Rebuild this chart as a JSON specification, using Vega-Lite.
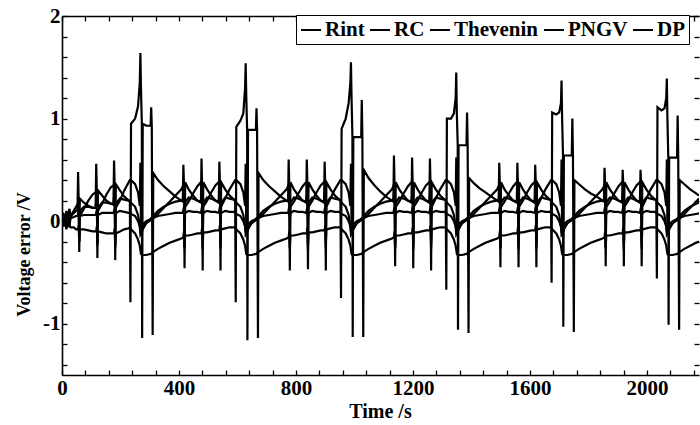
{
"$schema": "https://vega.github.io/schema/vega-lite/v6.json",
"width": 637, "height": 359,
"autosize": {"type": "none"},
"padding": {"left": 62, "top": 16, "right": 1, "bottom": 50},
"background": "white",
"config": {"view": {"stroke": null}, "font": "Liberation Serif"},
"datasets": {"err": [
{"t":0,"Rint":0,"RC":0,"Thevenin":0,"PNGV":0,"DP":0},
{"t":5,"Rint":0.08,"RC":-0.05,"Thevenin":0.05,"PNGV":0.02,"DP":-0.05},
{"t":10,"Rint":-0.05,"RC":0.06,"Thevenin":0.0,"PNGV":0.03,"DP":0.02},
{"t":15,"Rint":0.10,"RC":0.02,"Thevenin":0.06,"PNGV":0.0,"DP":-0.08},
{"t":20,"Rint":0.03,"RC":0.08,"Thevenin":0.04,"PNGV":0.05,"DP":-0.02},
{"t":25,"Rint":0.12,"RC":-0.06,"Thevenin":0.08,"PNGV":0.03,"DP":-0.04},
{"t":30,"Rint":0.05,"RC":0.05,"Thevenin":0.06,"PNGV":0.03,"DP":-0.06},
{"t":40,"Rint":0.08,"RC":0.10,"Thevenin":0.08,"PNGV":0.04,"DP":-0.06},
{"t":48,"Rint":0.10,"RC":0.14,"Thevenin":0.10,"PNGV":0.05,"DP":-0.08},
{"t":53,"Rint":0.10,"RC":0.16,"Thevenin":0.10,"PNGV":0.05,"DP":-0.08},
{"t":55,"Rint":0.48,"RC":0.18,"Thevenin":0.15,"PNGV":0.07,"DP":-0.08},
{"t":57,"Rint":0.20,"RC":0.14,"Thevenin":0.12,"PNGV":0.06,"DP":-0.04},
{"t":59,"Rint":-0.30,"RC":-0.20,"Thevenin":0.02,"PNGV":0.0,"DP":-0.20},
{"t":61,"Rint":0.22,"RC":0.05,"Thevenin":0.10,"PNGV":0.05,"DP":-0.08},
{"t":75,"Rint":0.18,"RC":0.12,"Thevenin":0.14,"PNGV":0.06,"DP":-0.08},
{"t":90,"Rint":0.15,"RC":0.20,"Thevenin":0.14,"PNGV":0.06,"DP":-0.09},
{"t":105,"Rint":0.13,"RC":0.26,"Thevenin":0.13,"PNGV":0.06,"DP":-0.10},
{"t":115,"Rint":0.13,"RC":0.28,"Thevenin":0.13,"PNGV":0.06,"DP":-0.10},
{"t":117,"Rint":0.56,"RC":0.30,"Thevenin":0.20,"PNGV":0.08,"DP":-0.10},
{"t":119,"Rint":0.30,"RC":0.24,"Thevenin":0.16,"PNGV":0.07,"DP":-0.05},
{"t":121,"Rint":-0.36,"RC":-0.24,"Thevenin":0.05,"PNGV":0.02,"DP":-0.22},
{"t":123,"Rint":0.30,"RC":0.10,"Thevenin":0.13,"PNGV":0.06,"DP":-0.10},
{"t":137,"Rint":0.25,"RC":0.17,"Thevenin":0.18,"PNGV":0.08,"DP":-0.11},
{"t":152,"Rint":0.20,"RC":0.26,"Thevenin":0.18,"PNGV":0.08,"DP":-0.12},
{"t":167,"Rint":0.17,"RC":0.33,"Thevenin":0.17,"PNGV":0.08,"DP":-0.12},
{"t":176,"Rint":0.16,"RC":0.35,"Thevenin":0.17,"PNGV":0.08,"DP":-0.12},
{"t":178,"Rint":0.59,"RC":0.36,"Thevenin":0.24,"PNGV":0.10,"DP":-0.12},
{"t":180,"Rint":0.35,"RC":0.30,"Thevenin":0.20,"PNGV":0.09,"DP":-0.07},
{"t":182,"Rint":-0.38,"RC":-0.26,"Thevenin":0.10,"PNGV":0.03,"DP":-0.24},
{"t":184,"Rint":0.36,"RC":0.13,"Thevenin":0.17,"PNGV":0.08,"DP":-0.12},
{"t":198,"Rint":0.30,"RC":0.20,"Thevenin":0.22,"PNGV":0.10,"DP":-0.10},
{"t":213,"Rint":0.24,"RC":0.30,"Thevenin":0.21,"PNGV":0.09,"DP":-0.08},
{"t":228,"Rint":0.20,"RC":0.38,"Thevenin":0.20,"PNGV":0.08,"DP":-0.07},

{"t":232,"Rint":0.20,"RC":0.40,"Thevenin":0.20,"PNGV":0.08,"DP":-0.06},
{"t":234,"Rint":-0.79,"RC":0.40,"Thevenin":0.19,"PNGV":0.08,"DP":-0.07},
{"t":236,"Rint":0.95,"RC":0.40,"Thevenin":0.18,"PNGV":0.07,"DP":-0.08},
{"t":250,"Rint":1.00,"RC":0.36,"Thevenin":0.14,"PNGV":0.05,"DP":-0.12},
{"t":260,"Rint":1.12,"RC":0.28,"Thevenin":0.06,"PNGV":0.00,"DP":-0.18},
{"t":266,"Rint":1.35,"RC":0.15,"Thevenin":-0.05,"PNGV":-0.05,"DP":-0.24},
{"t":268,"Rint":1.64,"RC":0.57,"Thevenin":-0.13,"PNGV":-0.09,"DP":-0.28},
{"t":270,"Rint":1.30,"RC":-0.05,"Thevenin":-0.12,"PNGV":-0.08,"DP":-0.32},
{"t":273,"Rint":0.95,"RC":-0.04,"Thevenin":-0.10,"PNGV":-0.07,"DP":-0.33},
{"t":274,"Rint":-1.14,"RC":-0.04,"Thevenin":-0.10,"PNGV":-0.07,"DP":-0.33},
{"t":276,"Rint":0.95,"RC":-0.03,"Thevenin":-0.08,"PNGV":-0.06,"DP":-0.33},
{"t":288,"Rint":0.93,"RC":0.00,"Thevenin":-0.02,"PNGV":-0.02,"DP":-0.33},
{"t":303,"Rint":0.93,"RC":0.02,"Thevenin":0.02,"PNGV":0.01,"DP":-0.32},
{"t":305,"Rint":1.11,"RC":0.02,"Thevenin":0.03,"PNGV":0.02,"DP":-0.32},
{"t":307,"Rint":0.92,"RC":0.03,"Thevenin":0.03,"PNGV":0.02,"DP":-0.31},
{"t":310,"Rint":-1.11,"RC":0.03,"Thevenin":0.04,"PNGV":0.02,"DP":-0.31},
{"t":312,"Rint":0.47,"RC":0.03,"Thevenin":0.05,"PNGV":0.03,"DP":-0.30},
{"t":328,"Rint":0.40,"RC":0.07,"Thevenin":0.10,"PNGV":0.05,"DP":-0.27},
{"t":348,"Rint":0.34,"RC":0.13,"Thevenin":0.14,"PNGV":0.06,"DP":-0.24},
{"t":368,"Rint":0.29,"RC":0.19,"Thevenin":0.17,"PNGV":0.07,"DP":-0.21},
{"t":388,"Rint":0.24,"RC":0.25,"Thevenin":0.19,"PNGV":0.08,"DP":-0.19},
{"t":408,"Rint":0.20,"RC":0.31,"Thevenin":0.20,"PNGV":0.08,"DP":-0.17},
{"t":413,"Rint":0.19,"RC":0.34,"Thevenin":0.20,"PNGV":0.08,"DP":-0.16},
{"t":415,"Rint":0.55,"RC":0.36,"Thevenin":0.26,"PNGV":0.11,"DP":-0.16},
{"t":417,"Rint":0.36,"RC":0.30,"Thevenin":0.22,"PNGV":0.10,"DP":-0.10},
{"t":419,"Rint":-0.46,"RC":-0.27,"Thevenin":0.12,"PNGV":0.04,"DP":-0.26},
{"t":421,"Rint":0.38,"RC":0.14,"Thevenin":0.18,"PNGV":0.08,"DP":-0.14},
{"t":433,"Rint":0.31,"RC":0.19,"Thevenin":0.23,"PNGV":0.10,"DP":-0.14},
{"t":448,"Rint":0.25,"RC":0.27,"Thevenin":0.22,"PNGV":0.09,"DP":-0.13},
{"t":463,"Rint":0.20,"RC":0.34,"Thevenin":0.20,"PNGV":0.09,"DP":-0.12},
{"t":475,"Rint":0.18,"RC":0.38,"Thevenin":0.19,"PNGV":0.08,"DP":-0.12},
{"t":477,"Rint":0.61,"RC":0.38,"Thevenin":0.25,"PNGV":0.11,"DP":-0.12},
{"t":479,"Rint":0.36,"RC":0.30,"Thevenin":0.22,"PNGV":0.10,"DP":-0.06},
{"t":481,"Rint":-0.48,"RC":-0.28,"Thevenin":0.12,"PNGV":0.04,"DP":-0.24},
{"t":483,"Rint":0.38,"RC":0.14,"Thevenin":0.18,"PNGV":0.08,"DP":-0.11},
{"t":496,"Rint":0.31,"RC":0.20,"Thevenin":0.23,"PNGV":0.10,"DP":-0.11},
{"t":510,"Rint":0.25,"RC":0.28,"Thevenin":0.22,"PNGV":0.09,"DP":-0.10},
{"t":525,"Rint":0.20,"RC":0.35,"Thevenin":0.20,"PNGV":0.09,"DP":-0.09},
{"t":536,"Rint":0.18,"RC":0.38,"Thevenin":0.19,"PNGV":0.08,"DP":-0.09},
{"t":538,"Rint":0.58,"RC":0.38,"Thevenin":0.25,"PNGV":0.11,"DP":-0.09},
{"t":540,"Rint":0.36,"RC":0.30,"Thevenin":0.22,"PNGV":0.10,"DP":-0.04},
{"t":542,"Rint":-0.48,"RC":-0.27,"Thevenin":0.12,"PNGV":0.04,"DP":-0.22},
{"t":544,"Rint":0.38,"RC":0.14,"Thevenin":0.18,"PNGV":0.08,"DP":-0.08},
{"t":558,"Rint":0.31,"RC":0.22,"Thevenin":0.23,"PNGV":0.10,"DP":-0.07},
{"t":573,"Rint":0.25,"RC":0.31,"Thevenin":0.22,"PNGV":0.09,"DP":-0.06},
{"t":588,"Rint":0.21,"RC":0.38,"Thevenin":0.21,"PNGV":0.09,"DP":-0.06},

{"t":592,"Rint":0.20,"RC":0.40,"Thevenin":0.20,"PNGV":0.08,"DP":-0.06},
{"t":594,"Rint":-0.79,"RC":0.40,"Thevenin":0.19,"PNGV":0.08,"DP":-0.07},
{"t":596,"Rint":0.92,"RC":0.40,"Thevenin":0.18,"PNGV":0.07,"DP":-0.08},
{"t":610,"Rint":0.98,"RC":0.36,"Thevenin":0.14,"PNGV":0.05,"DP":-0.12},
{"t":620,"Rint":1.05,"RC":0.28,"Thevenin":0.06,"PNGV":0.00,"DP":-0.18},
{"t":626,"Rint":1.30,"RC":0.15,"Thevenin":-0.05,"PNGV":-0.05,"DP":-0.24},
{"t":628,"Rint":1.54,"RC":0.56,"Thevenin":-0.13,"PNGV":-0.09,"DP":-0.28},
{"t":630,"Rint":1.22,"RC":-0.05,"Thevenin":-0.12,"PNGV":-0.08,"DP":-0.32},
{"t":633,"Rint":0.89,"RC":-0.04,"Thevenin":-0.10,"PNGV":-0.07,"DP":-0.33},
{"t":634,"Rint":-1.16,"RC":-0.04,"Thevenin":-0.10,"PNGV":-0.07,"DP":-0.33},
{"t":636,"Rint":0.89,"RC":-0.03,"Thevenin":-0.08,"PNGV":-0.06,"DP":-0.33},
{"t":648,"Rint":0.89,"RC":0.00,"Thevenin":-0.02,"PNGV":-0.02,"DP":-0.33},
{"t":663,"Rint":0.89,"RC":0.02,"Thevenin":0.02,"PNGV":0.01,"DP":-0.32},
{"t":665,"Rint":1.10,"RC":0.02,"Thevenin":0.03,"PNGV":0.02,"DP":-0.32},
{"t":667,"Rint":0.89,"RC":0.03,"Thevenin":0.03,"PNGV":0.02,"DP":-0.31},
{"t":670,"Rint":-1.14,"RC":0.03,"Thevenin":0.04,"PNGV":0.02,"DP":-0.31},
{"t":672,"Rint":0.47,"RC":0.03,"Thevenin":0.05,"PNGV":0.03,"DP":-0.30},
{"t":688,"Rint":0.40,"RC":0.07,"Thevenin":0.10,"PNGV":0.05,"DP":-0.27},
{"t":708,"Rint":0.34,"RC":0.13,"Thevenin":0.14,"PNGV":0.06,"DP":-0.24},
{"t":728,"Rint":0.29,"RC":0.19,"Thevenin":0.17,"PNGV":0.07,"DP":-0.21},
{"t":748,"Rint":0.24,"RC":0.25,"Thevenin":0.19,"PNGV":0.08,"DP":-0.19},
{"t":768,"Rint":0.20,"RC":0.31,"Thevenin":0.20,"PNGV":0.08,"DP":-0.17},
{"t":773,"Rint":0.19,"RC":0.34,"Thevenin":0.20,"PNGV":0.08,"DP":-0.16},
{"t":775,"Rint":0.60,"RC":0.36,"Thevenin":0.26,"PNGV":0.11,"DP":-0.16},
{"t":777,"Rint":0.36,"RC":0.30,"Thevenin":0.22,"PNGV":0.10,"DP":-0.10},
{"t":779,"Rint":-0.48,"RC":-0.27,"Thevenin":0.12,"PNGV":0.04,"DP":-0.26},
{"t":781,"Rint":0.38,"RC":0.14,"Thevenin":0.18,"PNGV":0.08,"DP":-0.14},
{"t":793,"Rint":0.31,"RC":0.19,"Thevenin":0.23,"PNGV":0.10,"DP":-0.14},
{"t":808,"Rint":0.25,"RC":0.27,"Thevenin":0.22,"PNGV":0.09,"DP":-0.13},
{"t":823,"Rint":0.20,"RC":0.34,"Thevenin":0.20,"PNGV":0.09,"DP":-0.12},
{"t":835,"Rint":0.18,"RC":0.38,"Thevenin":0.19,"PNGV":0.08,"DP":-0.12},
{"t":837,"Rint":0.60,"RC":0.38,"Thevenin":0.25,"PNGV":0.11,"DP":-0.12},
{"t":839,"Rint":0.36,"RC":0.30,"Thevenin":0.22,"PNGV":0.10,"DP":-0.06},
{"t":841,"Rint":-0.47,"RC":-0.28,"Thevenin":0.12,"PNGV":0.04,"DP":-0.24},
{"t":843,"Rint":0.38,"RC":0.14,"Thevenin":0.18,"PNGV":0.08,"DP":-0.11},
{"t":856,"Rint":0.31,"RC":0.20,"Thevenin":0.23,"PNGV":0.10,"DP":-0.11},
{"t":870,"Rint":0.25,"RC":0.28,"Thevenin":0.22,"PNGV":0.09,"DP":-0.10},
{"t":885,"Rint":0.20,"RC":0.35,"Thevenin":0.20,"PNGV":0.09,"DP":-0.09},
{"t":896,"Rint":0.18,"RC":0.38,"Thevenin":0.19,"PNGV":0.08,"DP":-0.09},
{"t":898,"Rint":0.58,"RC":0.38,"Thevenin":0.25,"PNGV":0.11,"DP":-0.09},
{"t":900,"Rint":0.36,"RC":0.30,"Thevenin":0.22,"PNGV":0.10,"DP":-0.04},
{"t":902,"Rint":-0.48,"RC":-0.27,"Thevenin":0.12,"PNGV":0.04,"DP":-0.22},
{"t":904,"Rint":0.38,"RC":0.14,"Thevenin":0.18,"PNGV":0.08,"DP":-0.08},
{"t":918,"Rint":0.31,"RC":0.22,"Thevenin":0.23,"PNGV":0.10,"DP":-0.07},
{"t":933,"Rint":0.25,"RC":0.31,"Thevenin":0.22,"PNGV":0.09,"DP":-0.06},
{"t":948,"Rint":0.21,"RC":0.38,"Thevenin":0.21,"PNGV":0.09,"DP":-0.06},

{"t":952,"Rint":0.20,"RC":0.40,"Thevenin":0.20,"PNGV":0.08,"DP":-0.06},
{"t":954,"Rint":-0.75,"RC":0.40,"Thevenin":0.19,"PNGV":0.08,"DP":-0.07},
{"t":956,"Rint":0.90,"RC":0.40,"Thevenin":0.18,"PNGV":0.07,"DP":-0.08},
{"t":970,"Rint":1.00,"RC":0.36,"Thevenin":0.14,"PNGV":0.05,"DP":-0.12},
{"t":980,"Rint":1.15,"RC":0.28,"Thevenin":0.06,"PNGV":0.00,"DP":-0.18},
{"t":986,"Rint":1.35,"RC":0.15,"Thevenin":-0.05,"PNGV":-0.05,"DP":-0.24},
{"t":988,"Rint":1.55,"RC":0.56,"Thevenin":-0.13,"PNGV":-0.09,"DP":-0.28},
{"t":990,"Rint":1.20,"RC":-0.05,"Thevenin":-0.12,"PNGV":-0.08,"DP":-0.32},
{"t":993,"Rint":0.82,"RC":-0.04,"Thevenin":-0.10,"PNGV":-0.07,"DP":-0.33},
{"t":994,"Rint":-1.13,"RC":-0.04,"Thevenin":-0.10,"PNGV":-0.07,"DP":-0.33},
{"t":996,"Rint":0.82,"RC":-0.03,"Thevenin":-0.08,"PNGV":-0.06,"DP":-0.33},
{"t":1008,"Rint":0.82,"RC":0.00,"Thevenin":-0.02,"PNGV":-0.02,"DP":-0.33},
{"t":1023,"Rint":0.82,"RC":0.02,"Thevenin":0.02,"PNGV":0.01,"DP":-0.32},
{"t":1025,"Rint":1.18,"RC":0.02,"Thevenin":0.03,"PNGV":0.02,"DP":-0.32},
{"t":1027,"Rint":0.82,"RC":0.03,"Thevenin":0.03,"PNGV":0.02,"DP":-0.31},
{"t":1030,"Rint":-1.13,"RC":0.03,"Thevenin":0.04,"PNGV":0.02,"DP":-0.31},
{"t":1032,"Rint":0.50,"RC":0.03,"Thevenin":0.05,"PNGV":0.03,"DP":-0.30},
{"t":1048,"Rint":0.42,"RC":0.07,"Thevenin":0.10,"PNGV":0.05,"DP":-0.27},
{"t":1068,"Rint":0.35,"RC":0.13,"Thevenin":0.14,"PNGV":0.06,"DP":-0.24},
{"t":1088,"Rint":0.29,"RC":0.19,"Thevenin":0.17,"PNGV":0.07,"DP":-0.21},
{"t":1108,"Rint":0.24,"RC":0.25,"Thevenin":0.19,"PNGV":0.08,"DP":-0.19},
{"t":1128,"Rint":0.20,"RC":0.31,"Thevenin":0.20,"PNGV":0.08,"DP":-0.17},
{"t":1133,"Rint":0.19,"RC":0.34,"Thevenin":0.20,"PNGV":0.08,"DP":-0.16},
{"t":1135,"Rint":0.64,"RC":0.36,"Thevenin":0.26,"PNGV":0.11,"DP":-0.16},
{"t":1137,"Rint":0.36,"RC":0.30,"Thevenin":0.22,"PNGV":0.10,"DP":-0.10},
{"t":1139,"Rint":-0.44,"RC":-0.27,"Thevenin":0.12,"PNGV":0.04,"DP":-0.26},
{"t":1141,"Rint":0.38,"RC":0.14,"Thevenin":0.18,"PNGV":0.08,"DP":-0.14},
{"t":1153,"Rint":0.31,"RC":0.19,"Thevenin":0.23,"PNGV":0.10,"DP":-0.14},
{"t":1168,"Rint":0.25,"RC":0.27,"Thevenin":0.22,"PNGV":0.09,"DP":-0.13},
{"t":1183,"Rint":0.20,"RC":0.34,"Thevenin":0.20,"PNGV":0.09,"DP":-0.12},
{"t":1195,"Rint":0.18,"RC":0.38,"Thevenin":0.19,"PNGV":0.08,"DP":-0.12},
{"t":1197,"Rint":0.62,"RC":0.38,"Thevenin":0.25,"PNGV":0.11,"DP":-0.12},
{"t":1199,"Rint":0.36,"RC":0.30,"Thevenin":0.22,"PNGV":0.10,"DP":-0.06},
{"t":1201,"Rint":-0.46,"RC":-0.28,"Thevenin":0.12,"PNGV":0.04,"DP":-0.24},
{"t":1203,"Rint":0.38,"RC":0.14,"Thevenin":0.18,"PNGV":0.08,"DP":-0.11},
{"t":1216,"Rint":0.31,"RC":0.20,"Thevenin":0.23,"PNGV":0.10,"DP":-0.11},
{"t":1230,"Rint":0.25,"RC":0.28,"Thevenin":0.22,"PNGV":0.09,"DP":-0.10},
{"t":1245,"Rint":0.20,"RC":0.35,"Thevenin":0.20,"PNGV":0.09,"DP":-0.09},
{"t":1256,"Rint":0.18,"RC":0.38,"Thevenin":0.19,"PNGV":0.08,"DP":-0.09},
{"t":1258,"Rint":0.61,"RC":0.38,"Thevenin":0.25,"PNGV":0.11,"DP":-0.09},
{"t":1260,"Rint":0.36,"RC":0.30,"Thevenin":0.22,"PNGV":0.10,"DP":-0.04},
{"t":1262,"Rint":-0.48,"RC":-0.27,"Thevenin":0.12,"PNGV":0.04,"DP":-0.22},
{"t":1264,"Rint":0.38,"RC":0.14,"Thevenin":0.18,"PNGV":0.08,"DP":-0.08},
{"t":1278,"Rint":0.31,"RC":0.22,"Thevenin":0.23,"PNGV":0.10,"DP":-0.07},
{"t":1293,"Rint":0.25,"RC":0.31,"Thevenin":0.22,"PNGV":0.09,"DP":-0.06},
{"t":1308,"Rint":0.21,"RC":0.38,"Thevenin":0.21,"PNGV":0.09,"DP":-0.06},

{"t":1312,"Rint":0.20,"RC":0.40,"Thevenin":0.20,"PNGV":0.08,"DP":-0.06},
{"t":1314,"Rint":-0.67,"RC":0.40,"Thevenin":0.19,"PNGV":0.08,"DP":-0.07},
{"t":1316,"Rint":1.00,"RC":0.40,"Thevenin":0.18,"PNGV":0.07,"DP":-0.08},
{"t":1330,"Rint":1.00,"RC":0.36,"Thevenin":0.14,"PNGV":0.05,"DP":-0.12},
{"t":1340,"Rint":1.05,"RC":0.28,"Thevenin":0.06,"PNGV":0.00,"DP":-0.18},
{"t":1346,"Rint":1.20,"RC":0.15,"Thevenin":-0.05,"PNGV":-0.05,"DP":-0.24},
{"t":1348,"Rint":1.45,"RC":0.62,"Thevenin":-0.13,"PNGV":-0.09,"DP":-0.28},
{"t":1350,"Rint":1.05,"RC":-0.05,"Thevenin":-0.12,"PNGV":-0.08,"DP":-0.32},
{"t":1353,"Rint":0.74,"RC":-0.04,"Thevenin":-0.10,"PNGV":-0.07,"DP":-0.33},
{"t":1354,"Rint":-1.06,"RC":-0.04,"Thevenin":-0.10,"PNGV":-0.07,"DP":-0.33},
{"t":1356,"Rint":0.74,"RC":-0.03,"Thevenin":-0.08,"PNGV":-0.06,"DP":-0.33},
{"t":1368,"Rint":0.74,"RC":0.00,"Thevenin":-0.02,"PNGV":-0.02,"DP":-0.33},
{"t":1383,"Rint":0.74,"RC":0.02,"Thevenin":0.02,"PNGV":0.01,"DP":-0.32},
{"t":1385,"Rint":1.06,"RC":0.02,"Thevenin":0.03,"PNGV":0.02,"DP":-0.32},
{"t":1387,"Rint":0.74,"RC":0.03,"Thevenin":0.03,"PNGV":0.02,"DP":-0.31},
{"t":1390,"Rint":-1.09,"RC":0.03,"Thevenin":0.04,"PNGV":0.02,"DP":-0.31},
{"t":1392,"Rint":0.42,"RC":0.03,"Thevenin":0.05,"PNGV":0.03,"DP":-0.30},
{"t":1408,"Rint":0.37,"RC":0.07,"Thevenin":0.10,"PNGV":0.05,"DP":-0.27},
{"t":1428,"Rint":0.32,"RC":0.13,"Thevenin":0.14,"PNGV":0.06,"DP":-0.24},
{"t":1448,"Rint":0.28,"RC":0.19,"Thevenin":0.17,"PNGV":0.07,"DP":-0.21},
{"t":1468,"Rint":0.24,"RC":0.25,"Thevenin":0.19,"PNGV":0.08,"DP":-0.19},
{"t":1488,"Rint":0.20,"RC":0.31,"Thevenin":0.20,"PNGV":0.08,"DP":-0.17},
{"t":1493,"Rint":0.19,"RC":0.34,"Thevenin":0.20,"PNGV":0.08,"DP":-0.16},
{"t":1495,"Rint":0.57,"RC":0.36,"Thevenin":0.26,"PNGV":0.11,"DP":-0.16},
{"t":1497,"Rint":0.36,"RC":0.30,"Thevenin":0.22,"PNGV":0.10,"DP":-0.10},
{"t":1499,"Rint":-0.45,"RC":-0.27,"Thevenin":0.12,"PNGV":0.04,"DP":-0.26},
{"t":1501,"Rint":0.38,"RC":0.14,"Thevenin":0.18,"PNGV":0.08,"DP":-0.14},
{"t":1513,"Rint":0.31,"RC":0.19,"Thevenin":0.23,"PNGV":0.10,"DP":-0.14},
{"t":1528,"Rint":0.25,"RC":0.27,"Thevenin":0.22,"PNGV":0.09,"DP":-0.13},
{"t":1543,"Rint":0.20,"RC":0.34,"Thevenin":0.20,"PNGV":0.09,"DP":-0.12},
{"t":1555,"Rint":0.18,"RC":0.38,"Thevenin":0.19,"PNGV":0.08,"DP":-0.12},
{"t":1557,"Rint":0.57,"RC":0.38,"Thevenin":0.25,"PNGV":0.11,"DP":-0.12},
{"t":1559,"Rint":0.36,"RC":0.30,"Thevenin":0.22,"PNGV":0.10,"DP":-0.06},
{"t":1561,"Rint":-0.45,"RC":-0.28,"Thevenin":0.12,"PNGV":0.04,"DP":-0.24},
{"t":1563,"Rint":0.38,"RC":0.14,"Thevenin":0.18,"PNGV":0.08,"DP":-0.11},
{"t":1576,"Rint":0.31,"RC":0.20,"Thevenin":0.23,"PNGV":0.10,"DP":-0.11},
{"t":1590,"Rint":0.25,"RC":0.28,"Thevenin":0.22,"PNGV":0.09,"DP":-0.10},
{"t":1605,"Rint":0.20,"RC":0.35,"Thevenin":0.20,"PNGV":0.09,"DP":-0.09},
{"t":1616,"Rint":0.18,"RC":0.38,"Thevenin":0.19,"PNGV":0.08,"DP":-0.09},
{"t":1618,"Rint":0.55,"RC":0.38,"Thevenin":0.25,"PNGV":0.11,"DP":-0.09},
{"t":1620,"Rint":0.36,"RC":0.30,"Thevenin":0.22,"PNGV":0.10,"DP":-0.04},
{"t":1622,"Rint":-0.45,"RC":-0.27,"Thevenin":0.12,"PNGV":0.04,"DP":-0.22},
{"t":1624,"Rint":0.38,"RC":0.14,"Thevenin":0.18,"PNGV":0.08,"DP":-0.08},
{"t":1638,"Rint":0.31,"RC":0.22,"Thevenin":0.23,"PNGV":0.10,"DP":-0.07},
{"t":1653,"Rint":0.25,"RC":0.31,"Thevenin":0.22,"PNGV":0.09,"DP":-0.06},
{"t":1668,"Rint":0.21,"RC":0.38,"Thevenin":0.21,"PNGV":0.09,"DP":-0.06},

{"t":1672,"Rint":0.20,"RC":0.40,"Thevenin":0.20,"PNGV":0.08,"DP":-0.06},
{"t":1674,"Rint":-0.60,"RC":0.40,"Thevenin":0.19,"PNGV":0.08,"DP":-0.07},
{"t":1676,"Rint":1.06,"RC":0.40,"Thevenin":0.18,"PNGV":0.07,"DP":-0.08},
{"t":1690,"Rint":1.04,"RC":0.36,"Thevenin":0.14,"PNGV":0.05,"DP":-0.12},
{"t":1700,"Rint":1.06,"RC":0.28,"Thevenin":0.06,"PNGV":0.00,"DP":-0.18},
{"t":1706,"Rint":1.15,"RC":0.15,"Thevenin":-0.05,"PNGV":-0.05,"DP":-0.24},
{"t":1708,"Rint":1.37,"RC":0.60,"Thevenin":-0.13,"PNGV":-0.09,"DP":-0.28},
{"t":1710,"Rint":1.00,"RC":-0.05,"Thevenin":-0.12,"PNGV":-0.08,"DP":-0.32},
{"t":1713,"Rint":0.64,"RC":-0.04,"Thevenin":-0.10,"PNGV":-0.07,"DP":-0.33},
{"t":1714,"Rint":-1.03,"RC":-0.04,"Thevenin":-0.10,"PNGV":-0.07,"DP":-0.33},
{"t":1716,"Rint":0.64,"RC":-0.03,"Thevenin":-0.08,"PNGV":-0.06,"DP":-0.33},
{"t":1728,"Rint":0.64,"RC":0.00,"Thevenin":-0.02,"PNGV":-0.02,"DP":-0.33},
{"t":1743,"Rint":0.64,"RC":0.02,"Thevenin":0.02,"PNGV":0.01,"DP":-0.32},
{"t":1745,"Rint":1.00,"RC":0.02,"Thevenin":0.03,"PNGV":0.02,"DP":-0.32},
{"t":1747,"Rint":0.64,"RC":0.03,"Thevenin":0.03,"PNGV":0.02,"DP":-0.31},
{"t":1750,"Rint":-1.08,"RC":0.03,"Thevenin":0.04,"PNGV":0.02,"DP":-0.31},
{"t":1752,"Rint":0.40,"RC":0.03,"Thevenin":0.05,"PNGV":0.03,"DP":-0.30},
{"t":1768,"Rint":0.36,"RC":0.07,"Thevenin":0.10,"PNGV":0.05,"DP":-0.27},
{"t":1788,"Rint":0.31,"RC":0.13,"Thevenin":0.14,"PNGV":0.06,"DP":-0.24},
{"t":1808,"Rint":0.27,"RC":0.19,"Thevenin":0.17,"PNGV":0.07,"DP":-0.21},
{"t":1828,"Rint":0.24,"RC":0.25,"Thevenin":0.19,"PNGV":0.08,"DP":-0.19},
{"t":1848,"Rint":0.20,"RC":0.31,"Thevenin":0.20,"PNGV":0.08,"DP":-0.17},
{"t":1853,"Rint":0.19,"RC":0.34,"Thevenin":0.20,"PNGV":0.08,"DP":-0.16},
{"t":1855,"Rint":0.52,"RC":0.36,"Thevenin":0.26,"PNGV":0.11,"DP":-0.16},
{"t":1857,"Rint":0.36,"RC":0.30,"Thevenin":0.22,"PNGV":0.10,"DP":-0.10},
{"t":1859,"Rint":-0.44,"RC":-0.27,"Thevenin":0.12,"PNGV":0.04,"DP":-0.26},
{"t":1861,"Rint":0.38,"RC":0.14,"Thevenin":0.18,"PNGV":0.08,"DP":-0.14},
{"t":1873,"Rint":0.31,"RC":0.19,"Thevenin":0.23,"PNGV":0.10,"DP":-0.14},
{"t":1888,"Rint":0.25,"RC":0.27,"Thevenin":0.22,"PNGV":0.09,"DP":-0.13},
{"t":1903,"Rint":0.20,"RC":0.34,"Thevenin":0.20,"PNGV":0.09,"DP":-0.12},
{"t":1915,"Rint":0.18,"RC":0.38,"Thevenin":0.19,"PNGV":0.08,"DP":-0.12},
{"t":1917,"Rint":0.50,"RC":0.38,"Thevenin":0.25,"PNGV":0.11,"DP":-0.12},
{"t":1919,"Rint":0.36,"RC":0.30,"Thevenin":0.22,"PNGV":0.10,"DP":-0.06},
{"t":1921,"Rint":-0.44,"RC":-0.28,"Thevenin":0.12,"PNGV":0.04,"DP":-0.24},
{"t":1923,"Rint":0.38,"RC":0.14,"Thevenin":0.18,"PNGV":0.08,"DP":-0.11},
{"t":1936,"Rint":0.31,"RC":0.20,"Thevenin":0.23,"PNGV":0.10,"DP":-0.11},
{"t":1950,"Rint":0.25,"RC":0.28,"Thevenin":0.22,"PNGV":0.09,"DP":-0.10},
{"t":1965,"Rint":0.20,"RC":0.35,"Thevenin":0.20,"PNGV":0.09,"DP":-0.09},
{"t":1976,"Rint":0.18,"RC":0.38,"Thevenin":0.19,"PNGV":0.08,"DP":-0.09},
{"t":1978,"Rint":0.50,"RC":0.38,"Thevenin":0.25,"PNGV":0.11,"DP":-0.09},
{"t":1980,"Rint":0.36,"RC":0.30,"Thevenin":0.22,"PNGV":0.10,"DP":-0.04},
{"t":1982,"Rint":-0.44,"RC":-0.27,"Thevenin":0.12,"PNGV":0.04,"DP":-0.22},
{"t":1984,"Rint":0.38,"RC":0.14,"Thevenin":0.18,"PNGV":0.08,"DP":-0.08},
{"t":1998,"Rint":0.31,"RC":0.22,"Thevenin":0.23,"PNGV":0.10,"DP":-0.07},
{"t":2013,"Rint":0.25,"RC":0.31,"Thevenin":0.22,"PNGV":0.09,"DP":-0.06},
{"t":2028,"Rint":0.21,"RC":0.38,"Thevenin":0.21,"PNGV":0.09,"DP":-0.06},

{"t":2032,"Rint":0.20,"RC":0.40,"Thevenin":0.20,"PNGV":0.08,"DP":-0.06},
{"t":2034,"Rint":-0.56,"RC":0.40,"Thevenin":0.19,"PNGV":0.08,"DP":-0.07},
{"t":2036,"Rint":1.11,"RC":0.40,"Thevenin":0.18,"PNGV":0.07,"DP":-0.08},
{"t":2050,"Rint":1.08,"RC":0.36,"Thevenin":0.14,"PNGV":0.05,"DP":-0.12},
{"t":2060,"Rint":1.10,"RC":0.28,"Thevenin":0.06,"PNGV":0.00,"DP":-0.18},
{"t":2066,"Rint":1.20,"RC":0.15,"Thevenin":-0.05,"PNGV":-0.05,"DP":-0.24},
{"t":2068,"Rint":1.39,"RC":0.60,"Thevenin":-0.13,"PNGV":-0.09,"DP":-0.28},
{"t":2070,"Rint":1.00,"RC":-0.05,"Thevenin":-0.12,"PNGV":-0.08,"DP":-0.32},
{"t":2073,"Rint":0.62,"RC":-0.04,"Thevenin":-0.10,"PNGV":-0.07,"DP":-0.33},
{"t":2074,"Rint":-1.01,"RC":-0.04,"Thevenin":-0.10,"PNGV":-0.07,"DP":-0.33},
{"t":2076,"Rint":0.62,"RC":-0.03,"Thevenin":-0.08,"PNGV":-0.06,"DP":-0.33},
{"t":2088,"Rint":0.62,"RC":0.00,"Thevenin":-0.02,"PNGV":-0.02,"DP":-0.33},
{"t":2103,"Rint":0.62,"RC":0.02,"Thevenin":0.02,"PNGV":0.01,"DP":-0.32},
{"t":2105,"Rint":1.03,"RC":0.02,"Thevenin":0.03,"PNGV":0.02,"DP":-0.32},
{"t":2107,"Rint":0.62,"RC":0.03,"Thevenin":0.03,"PNGV":0.02,"DP":-0.31},
{"t":2110,"Rint":-1.06,"RC":0.03,"Thevenin":0.04,"PNGV":0.02,"DP":-0.31},
{"t":2112,"Rint":0.40,"RC":0.03,"Thevenin":0.05,"PNGV":0.03,"DP":-0.30},
{"t":2128,"Rint":0.36,"RC":0.07,"Thevenin":0.10,"PNGV":0.05,"DP":-0.27},
{"t":2148,"Rint":0.31,"RC":0.13,"Thevenin":0.14,"PNGV":0.06,"DP":-0.24},
{"t":2168,"Rint":0.27,"RC":0.19,"Thevenin":0.17,"PNGV":0.07,"DP":-0.21},
{"t":2178,"Rint":0.25,"RC":0.22,"Thevenin":0.18,"PNGV":0.075,"DP":-0.20}
]},
"layer": [
{
"data": {"name": "err"},
"transform": [{"fold": ["Rint", "RC", "Thevenin", "PNGV", "DP"], "as": ["model", "error"]}],
"mark": {"type": "line", "strokeWidth": 2.2, "clip": true, "strokeJoin": "miter"},
"encoding": {
"x": {"field": "t", "type": "quantitative",
 "scale": {"domain": [0, 2178], "nice": false, "zero": false},
 "axis": {"orient": "bottom", "values": [0,80,160,240,320,400,480,560,640,720,800,880,960,1040,1120,1200,1280,1360,1440,1520,1600,1680,1760,1840,1920,2000,2080,2160],
  "labelExpr": "datum.value % 400 === 0 ? '' + datum.value : ''",
  "tickSize": -5, "tickColor": "black", "tickWidth": 1.3, "domainColor": "black", "domainWidth": 1.6,
  "labelPadding": 7, "labelFont": "Liberation Serif", "labelFontSize": 21, "labelFontWeight": "bold", "labelColor": "black",
  "labelOverlap": false, "labelFlush": false, "grid": false,
  "title": "Time /s", "titleFont": "Liberation Serif", "titleFontSize": 20, "titleFontWeight": "bold", "titleColor": "black",
  "titleX": 318, "titleY": 42, "titleBaseline": "alphabetic", "titleAlign": "center"}},
"y": {"field": "error", "type": "quantitative",
 "scale": {"domain": [-1.5, 2], "nice": false, "zero": false},
 "axis": {"orient": "left", "values": [-1.4,-1.2,-1,-0.8,-0.6,-0.4,-0.2,0,0.2,0.4,0.6,0.8,1,1.2,1.4,1.6,1.8,2],
  "labelExpr": "abs(datum.value - round(datum.value)) < 0.001 ? '' + round(datum.value) : ''",
  "tickSize": -5, "tickColor": "black", "tickWidth": 1.3, "domainColor": "black", "domainWidth": 1.6,
  "labelPadding": 7, "labelFont": "Liberation Serif", "labelFontSize": 21, "labelFontWeight": "bold", "labelColor": "black",
  "labelOverlap": false, "labelFlush": false, "grid": false,
  "title": "Voltage error /V", "titleFont": "Liberation Serif", "titleFontSize": 18, "titleFontWeight": "bold", "titleColor": "black",
  "titleX": -38, "titleY": 238, "titleAngle": -90, "titleAlign": "center", "titleBaseline": "middle"}},
"color": {"field": "model", "type": "nominal",
 "scale": {"domain": ["Rint", "RC", "Thevenin", "PNGV", "DP"], "range": ["black", "black", "black", "black", "black"]},
 "legend": {"orient": "none", "legendX": 234, "legendY": -1, "direction": "horizontal", "title": null,
  "symbolType": "stroke", "symbolSize": 400, "symbolStrokeWidth": 2,
  "labelFont": "Liberation Serif", "labelFontSize": 21, "labelFontWeight": "bold", "labelColor": "black",
  "strokeColor": "black", "fillColor": "white", "padding": 4, "columnPadding": 1, "labelOffset": 3}}
}
},
{
"data": {"values": [{"t": 0, "error": 0}]},
"mark": {"type": "point", "opacity": 0},
"encoding": {
"x": {"field": "t", "type": "quantitative",
 "scale": {"domain": [0, 2178], "nice": false, "zero": false},
 "axis": {"orient": "top", "values": [0,80,160,240,320,400,480,560,640,720,800,880,960,1040,1120,1200,1280,1360,1440,1520,1600,1680,1760,1840,1920,2000,2080,2160],
  "labels": false, "tickSize": -5, "tickColor": "black", "tickWidth": 1.3, "domainColor": "black", "domainWidth": 1.6, "grid": false, "title": null}},
"y": {"field": "error", "type": "quantitative",
 "scale": {"domain": [-1.5, 2], "nice": false, "zero": false},
 "axis": {"orient": "right", "values": [-1.4,-1.2,-1,-0.8,-0.6,-0.4,-0.2,0,0.2,0.4,0.6,0.8,1,1.2,1.4,1.6,1.8,2],
  "labels": false, "domain": false, "tickSize": -5, "tickColor": "black", "tickWidth": 1.3, "grid": false, "title": null}}
}
}
],
"resolve": {"axis": {"x": "independent", "y": "independent"}}
}
